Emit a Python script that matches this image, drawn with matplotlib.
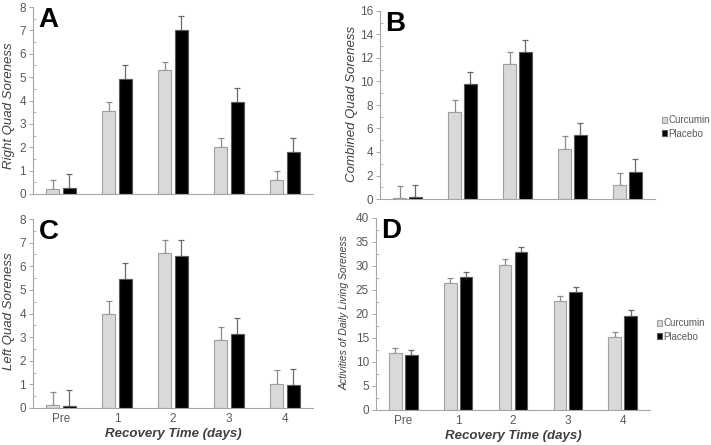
import numpy as np
import matplotlib
matplotlib.use("Agg")
import matplotlib.pyplot as plt
from matplotlib.ticker import MultipleLocator

plt.rcParams['font.family'] = ['Liberation Sans', 'DejaVu Sans']

# ---------------------------------------------------------------- data
days = ["Pre", "1", "2", "3", "4"]

right_cur = [0.2, 3.55, 5.3, 2.0, 0.6]
right_cur_err = [0.4, 0.37, 0.35, 0.4, 0.38]
right_pla = [0.27, 4.9, 7.0, 3.92, 1.8]
right_pla_err = [0.6, 0.6, 0.6, 0.63, 0.6]

comb_cur = [0.08, 7.37, 11.47, 4.28, 1.22]
comb_cur_err = [1.0, 1.05, 1.02, 1.05, 1.02]
comb_pla = [0.14, 9.8, 12.52, 5.44, 2.32]
comb_pla_err = [1.02, 1.02, 1.05, 1.02, 1.05]

left_cur = [0.11, 3.97, 6.55, 2.86, 1.03]
left_cur_err = [0.55, 0.58, 0.55, 0.56, 0.56]
left_pla = [0.1, 5.48, 6.45, 3.13, 0.99]
left_pla_err = [0.66, 0.66, 0.68, 0.66, 0.66]

adl_cur = [11.9, 26.55, 30.3, 22.7, 15.2]
adl_cur_err = [1.1, 1.05, 1.1, 1.1, 1.0]
adl_pla = [11.4, 27.7, 32.9, 24.5, 19.6]
adl_pla_err = [1.0, 1.1, 1.1, 1.1, 1.2]

# ---------------------------------------------------------------- plotting
W, H = 711, 445
fig = plt.figure(figsize=(W / 100, H / 100), dpi=100)


def px_axes(left, right, top, bottom):
    return fig.add_axes([left / W, 1 - bottom / H, (right - left) / W, (bottom - top) / H])


def draw_panel(ax, cur, cur_err, pla, pla_err, ymax, major, ylabel, letter,
               show_x, label_xy, legend_y=None, ylab_size=9.5):
    x = np.arange(len(days))
    w = 0.23
    off = 0.145
    ax.bar(x - off, cur, w, color='#d9d9d9', edgecolor='#a0a0a0', linewidth=0.8,
           label='Curcumin', zorder=2)
    ax.bar(x + off, pla, w, color='#000000', edgecolor='#5a5a5a', linewidth=0.8,
           label='Placebo', zorder=2)
    ax.errorbar(x - off, cur, yerr=[np.zeros(len(cur)), cur_err], fmt='none',
                ecolor='#8c8c8c', elinewidth=0.9, capsize=2, capthick=0.9, zorder=1)
    ax.errorbar(x + off, pla, yerr=[np.zeros(len(pla)), pla_err], fmt='none',
                ecolor='#6a6a6a', elinewidth=0.9, capsize=2, capthick=0.9, zorder=1)

    ax.set_xlim(-0.5, len(days) - 0.5)
    ax.set_ylim(0, ymax)
    ax.yaxis.set_major_locator(MultipleLocator(major))
    ax.yaxis.set_minor_locator(MultipleLocator(major / 2))
    for s in ['top', 'right']:
        ax.spines[s].set_visible(False)
    for s in ['left', 'bottom']:
        ax.spines[s].set_color('#a6a6a6')
        ax.spines[s].set_linewidth(0.8)
    ax.tick_params(axis='y', which='major', length=3, width=0.7, color='#a6a6a6',
                   labelsize=8.5, labelcolor='#595959', pad=2)
    ax.tick_params(axis='y', which='minor', length=2, width=0.6, color='#a6a6a6',
                   direction='in')
    ax.tick_params(axis='x', length=0)
    ax.set_xticks(x)
    if show_x:
        ax.set_xticklabels(days, fontsize=8.5, color='#595959')
        ax.set_xlabel('Recovery Time (days)', fontsize=9.5, fontweight='bold',
                      fontstyle='italic', color='#404040', labelpad=2)
    else:
        ax.set_xticklabels([])
    ax.set_ylabel(ylabel, fontsize=ylab_size, fontstyle='italic', color='#404040')
    ax.yaxis.set_label_coords(*label_xy)
    ax.text(0.02, 1.0, letter, transform=ax.transAxes, fontsize=20, fontweight='bold',
            va='top', ha='left')
    if legend_y is not None:
        ax.legend(loc='center left', bbox_to_anchor=(1.025, legend_y), frameon=False,
                  fontsize=7, labelcolor='#595959', handlelength=0.5, handleheight=0.5,
                  handletextpad=0.15, borderaxespad=0, borderpad=0, labelspacing=0.35)


ax_a = px_axes(33, 313, 7, 194)
draw_panel(ax_a, right_cur, right_cur_err, right_pla, right_pla_err, 8, 1,
           'Right Quad Soreness', 'A', False, (-0.065, 0.47))

ax_b = px_axes(380, 655, 11, 199)
draw_panel(ax_b, comb_cur, comb_cur_err, comb_pla, comb_pla_err, 16, 2,
           'Combined Quad Soreness', 'B', False, (-0.08, 0.505), legend_y=0.383)

ax_c = px_axes(33, 313, 219, 408)
draw_panel(ax_c, left_cur, left_cur_err, left_pla, left_pla_err, 8, 1,
           'Left Quad Soreness', 'C', True, (-0.065, 0.51))

ax_d = px_axes(376, 650, 218, 410)
draw_panel(ax_d, adl_cur, adl_cur_err, adl_pla, adl_pla_err, 40, 5,
           'Activities of Daily Living Soreness', 'D', True, (-0.095, 0.505),
           legend_y=0.417, ylab_size=7.5)

fig.savefig("out.png", dpi=100)
